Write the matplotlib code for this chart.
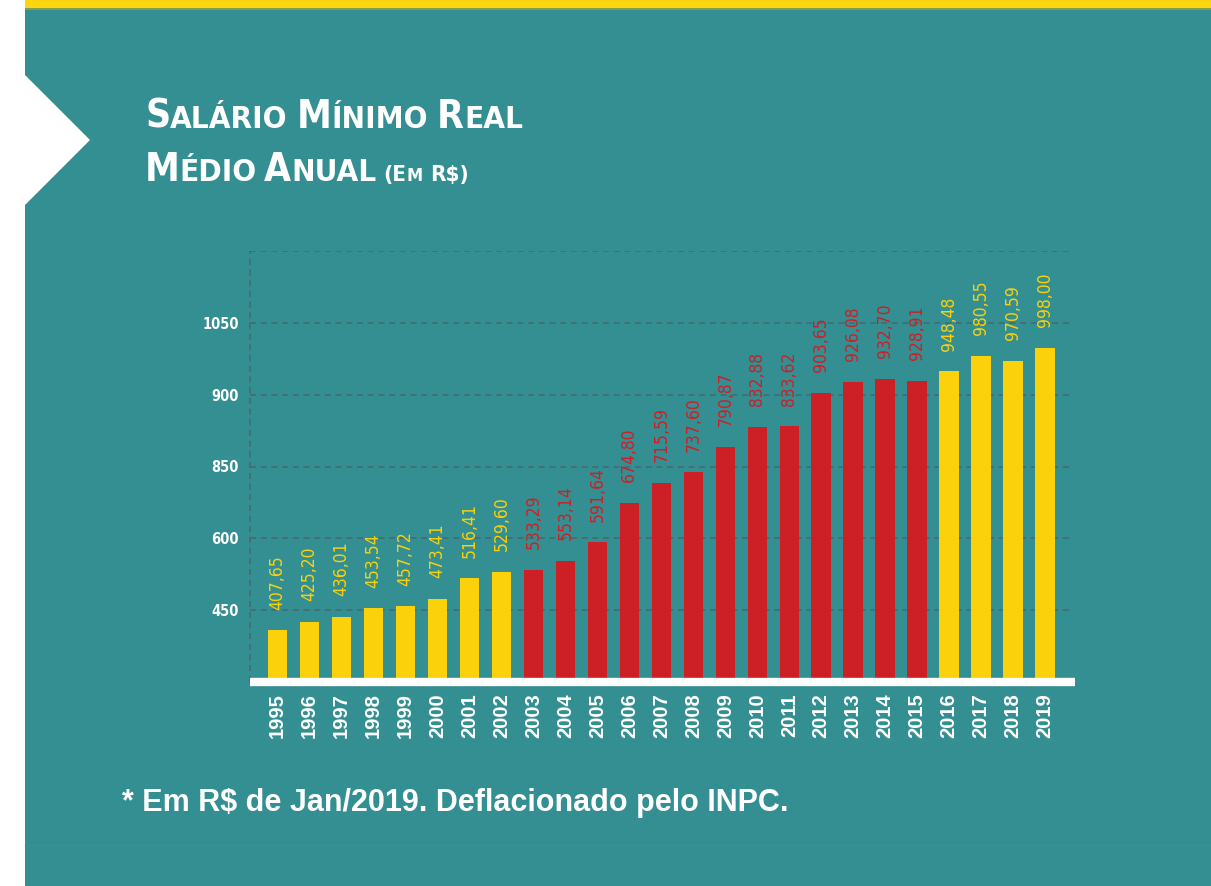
import os
import matplotlib
matplotlib.use('Agg')
import matplotlib.pyplot as plt
import matplotlib.font_manager as fm
from matplotlib.patches import Polygon, Rectangle

# dados (R$ de jan/2019)
anos = list(range(1995, 2020))
salario = [407.65, 425.20, 436.01, 453.54, 457.72, 473.41, 516.41, 529.60,
           533.29, 553.14, 591.64, 674.80, 715.59, 737.60, 790.87, 832.88,
           833.62, 903.65, 926.08, 932.70, 928.91, 948.48, 980.55, 970.59,
           998.00]
rotulos = ['%.2f' % v for v in salario]
rotulos = [r.replace('.', ',') for r in rotulos]
yticks = [450, 600, 750, 900, 1050]
ytick_labels = ['450', '600', '850', '900', '1050']   # como no original

FUNDO = '#348f92'
AMARELO = '#fbd10c'
VERMELHO = '#cd1f26'
GRADE = '#45696c'


# procura uma fonte condensada, se existir
def achar_fonte(nomes):
    arquivos = {os.path.basename(f.fname): f.fname for f in fm.fontManager.ttflist}
    for n in nomes:
        if n in arquivos:
            return arquivos[n]
    return None


cond_bold = achar_fonte(['DejaVuSansCondensed-Bold.ttf', 'LiberationSansNarrow-Bold.ttf',
                         'RobotoCondensed-Bold.ttf', 'OpenSans_Condensed-Bold.ttf'])
cond_reg = achar_fonte(['LiberationSansNarrow-Regular.ttf', 'DejaVuSansCondensed.ttf',
                        'RobotoCondensed-Regular.ttf'])


def fp(arquivo, tamanho, peso='bold'):
    if arquivo:
        return fm.FontProperties(fname=arquivo, size=tamanho)
    return fm.FontProperties(family='DejaVu Sans', weight=peso, size=tamanho)


W, H = 1211, 886
fig = plt.figure(figsize=(W / 100, H / 100), dpi=100)
fig.patch.set_facecolor(FUNDO)

# faixa branca à esquerda, faixa amarela no topo e seta branca
fig.patches.append(Rectangle((0, 0), 25 / W, 1, transform=fig.transFigure,
                             facecolor='white', edgecolor='none'))
fig.patches.append(Rectangle((25 / W, 1 - 8 / H), 1, 8 / H, transform=fig.transFigure,
                             facecolor='#fdd60f', edgecolor='none'))
fig.patches.append(Rectangle((25 / W, 1 - 10 / H), 1, 2 / H, transform=fig.transFigure,
                             facecolor='#7f9f4a', edgecolor='none'))
fig.patches.append(Polygon([(25 / W, 1 - 75 / H), (90 / W, 1 - 140 / H), (25 / W, 1 - 205 / H)],
                           closed=True, transform=fig.transFigure,
                           facecolor='white', edgecolor='none'))
fig.add_artist(plt.Line2D([25 / W, 1], [1 - 845 / H, 1 - 845 / H], transform=fig.transFigure,
                          color='#3b94a2', lw=1, alpha=0.6))

ax = fig.add_axes([250 / W, 1 - 682 / H, 822 / W, 431 / H])
ax.set_facecolor(FUNDO)

cores = [VERMELHO if 2003 <= a <= 2015 else AMARELO for a in anos]
x = list(range(len(anos)))
base = 300
ax.bar(x, [v - base for v in salario], bottom=base, width=0.61, color=cores, zorder=3)

for xi, v, r, c in zip(x, salario, rotulos, cores):
    ax.annotate(r, (xi, v), xytext=(0, 15), textcoords='offset points',
                rotation=90, ha='center', va='bottom', color=c,
                fontproperties=fp(cond_reg, 12.5, 'normal'), zorder=4)

ax.set_xlim(-0.86, len(anos) - 1 + 0.84)
ax.set_ylim(base, 1200)
ax.set_yticks(yticks)
ax.set_yticklabels(ytick_labels)
ax.set_xticks(x)
ax.set_xticklabels([str(a) for a in anos], rotation=90)
for t in ax.get_yticklabels():
    t.set_fontproperties(fp(cond_bold, 10.5))
    t.set_color('white')
for t in ax.get_xticklabels():
    t.set_fontproperties(fm.FontProperties(family='Liberation Sans', weight='bold', size=14.5))
    t.set_color('white')
ax.tick_params(axis='both', length=0)
ax.tick_params(axis='y', pad=8)
ax.tick_params(axis='x', pad=8)

for s in ax.spines.values():
    s.set_visible(False)
for yv in yticks + [1200]:
    ax.axhline(yv, color=GRADE, lw=1.1, ls=(0, (4, 3)), zorder=1)
ax.axvline(-0.86, color=GRADE, lw=1.1, ls=(0, (4, 3)), zorder=1, clip_on=False)
ax.axhline(base, xmin=0, xmax=1.004, color='white', lw=6, zorder=5, clip_on=False,
           solid_capstyle='butt')

# título em versalete
fig.canvas.draw()
rend = fig.canvas.get_renderer()


def versalete(x0, y0, partes, espaco):
    xx = x0
    for parte in partes:
        if parte is None:
            xx += espaco / W
            continue
        s, tam = parte
        t = fig.text(xx, y0, s, fontproperties=fp(cond_bold, tam), color='white',
                     va='baseline', ha='left')
        xx += t.get_window_extent(rend).width / W


versalete(145 / W, 1 - 128 / H,
          [('S', 28), ('ALÁRIO', 22.5), None, ('M', 28), ('ÍNIMO', 22.5), None,
           ('R', 28), ('EAL', 22.5)], 9)
versalete(145 / W, 1 - 181 / H,
          [('M', 28), ('ÉDIO', 22.5), None, ('A', 28), ('NUAL', 22.5), None,
           ('(E', 16), ('M', 13), None, ('R$)', 16)], 7)

fig.text(122 / W, 1 - 803 / H, '* Em R$ de Jan/2019. Deflacionado pelo INPC.',
         fontproperties=fm.FontProperties(family='Liberation Sans', weight='bold', size=22),
         color='white', va='center', ha='left')

fig.savefig('out.png', dpi=100, facecolor=fig.get_facecolor())
